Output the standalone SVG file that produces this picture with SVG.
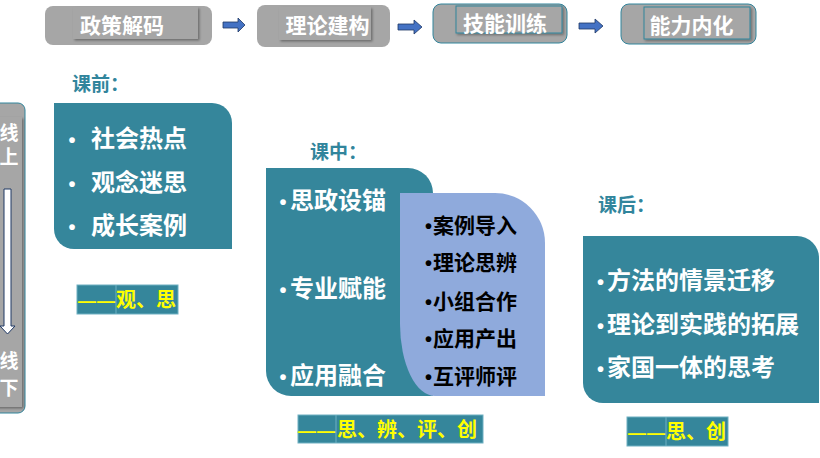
<svg xmlns="http://www.w3.org/2000/svg" width="820" height="458" viewBox="0 0 820 458">
<defs>
<filter id="sh" x="-10%" y="-20%" width="125%" height="150%">
<feDropShadow dx="1.5" dy="1.5" stdDeviation="1.2" flood-color="#000" flood-opacity="0.35"/>
</filter>
</defs>
<style>
text{font-family:"Noto Sans CJK SC","Microsoft YaHei",sans-serif;font-weight:bold}
.outer{fill:#a6a6a6}
.outerB{fill:#a6a6a6;stroke:#31859c;stroke-width:1}
.inner{fill:#a6a6a6;filter:url(#sh)}
.innerB{fill:#a6a6a6;stroke:#31859c;stroke-width:1;filter:url(#sh)}
.top{fill:#ffffff;font-size:21px;text-anchor:middle}
.head{fill:#31859c;font-size:19px}
.teal{fill:#35869b}
.blue{fill:#8faadc}
.wt{fill:#ffffff;font-size:24px}
.bk{fill:#000000;font-size:21px}
.bu{font-family:"Liberation Sans",Arial,sans-serif;font-size:20px}
.lab{fill:#35869b;stroke:#6fb0c2;stroke-width:1}
.div{stroke:#6fb0c2;stroke-width:1}
.yl{fill:#ffff00;font-size:20px}
.dash{font-family:"Liberation Sans",Arial,sans-serif;font-size:18px}
.arr{fill:#4472c4;stroke:#1f3864;stroke-width:0.8}
.side{fill:#ffffff;font-size:19px;text-anchor:middle}
</style>

<g id="step1">
<rect class="outer" x="45" y="6" width="167" height="39" rx="8"/>
<rect class="inner" x="73" y="7" width="125" height="32"/>
<text class="top" x="122" y="33">政策解码</text>
</g>
<g id="step2">
<rect class="outer" x="257" y="5" width="133" height="42" rx="8"/>
<rect class="inner" x="279" y="7" width="92" height="33"/>
<text class="top" x="327.5" y="33">理论建构</text>
</g>
<g id="step3">
<rect class="outerB" x="433" y="4" width="134" height="39" rx="8"/>
<rect class="innerB" x="456" y="6" width="106" height="27"/>
<text class="top" x="505" y="31">技能训练</text>
</g>
<g id="step4">
<rect class="outerB" x="621" y="4" width="135" height="40" rx="8"/>
<rect class="innerB" x="644" y="7" width="106" height="32"/>
<text class="top" x="691.5" y="33">能力内化</text>
</g>

<g id="online-offline">
<rect class="outerB" x="-20" y="103" width="45" height="310" rx="7"/>
<rect class="inner" x="-20" y="117" width="42" height="290"/>
<text class="side" x="9" y="140">线</text>
<text class="side" x="9" y="164">上</text>
<text class="side" x="9" y="368">线</text>
<text class="side" x="9" y="395">下</text>
</g>

<g id="connectors">
<path class="arr" d="M223 22 H238 V18 L245 25 L238 32 V28 H223 Z"/>
<path class="arr" d="M398 24 H414 V20 L422 27 L414 34 V30 H398 Z"/>
<path class="arr" d="M579 23 H595 V19 L603 26 L595 33 V29 H579 Z"/>
<path d="M4 189 H11 V326 H15 L7.5 334 L0 326 H4 Z" fill="#ffffff" stroke="#1f3864" stroke-width="1"/>
</g>

<g id="before-class">
<text class="head" x="72" y="91">课前：</text>
<path class="teal" d="M54 103 H212 A20 20 0 0 1 232 123 V249 H74 A20 20 0 0 1 54 229 Z"/>
<text class="wt" y="147"><tspan class="bu" x="68.5">•</tspan><tspan x="91">社会热点</tspan></text>
<text class="wt" y="191"><tspan class="bu" x="68.5">•</tspan><tspan x="91">观念迷思</tspan></text>
<text class="wt" y="234"><tspan class="bu" x="68.5">•</tspan><tspan x="91">成长案例</tspan></text>
</g>
<g id="before-label">
<rect class="lab" x="77" y="285" width="101" height="29"/>
<line class="div" x1="116" y1="285" x2="116" y2="314"/>
<text class="yl" y="307"><tspan class="dash" x="78 97">——</tspan><tspan x="116">观、思</tspan></text>
</g>

<g id="in-class">
<text class="head" x="310" y="159">课中：</text>
<path class="teal" d="M266 168 H408 A25 25 0 0 1 433 193 V396 H291 A25 25 0 0 1 266 371 Z"/>
<text class="wt" y="209"><tspan class="bu" x="279.5">•</tspan><tspan x="290">思政设锚</tspan></text>
<text class="wt" y="297"><tspan class="bu" x="279.5">•</tspan><tspan x="290">专业赋能</tspan></text>
<text class="wt" y="384"><tspan class="bu" x="279.5">•</tspan><tspan x="290">应用融合</tspan></text>
</g>
<g id="in-class-steps">
<path class="blue" d="M400 193 H495 A50 50 0 0 1 545 243 V396 H435 A35 72 0 0 1 400 324 Z"/>
<text class="bk" y="233"><tspan class="bu" x="425">•</tspan><tspan x="433">案例导入</tspan></text>
<text class="bk" y="270"><tspan class="bu" x="425">•</tspan><tspan x="433">理论思辨</tspan></text>
<text class="bk" y="309"><tspan class="bu" x="425">•</tspan><tspan x="433">小组合作</tspan></text>
<text class="bk" y="346"><tspan class="bu" x="425">•</tspan><tspan x="433">应用产出</tspan></text>
<text class="bk" y="384"><tspan class="bu" x="425">•</tspan><tspan x="433">互评师评</tspan></text>
</g>
<g id="in-class-label">
<rect class="lab" x="298" y="415" width="185" height="28"/>
<line class="div" x1="336" y1="415" x2="336" y2="443"/>
<text class="yl" y="436.5"><tspan class="dash" x="298 317">——</tspan><tspan x="337">思、辨、评、创</tspan></text>
</g>

<g id="after-class">
<text class="head" x="598" y="212">课后：</text>
<path class="teal" d="M583 236 H797 A22 22 0 0 1 819 258 V403 H603 A20 20 0 0 1 583 383 Z"/>
<text class="wt" y="289"><tspan class="bu" x="597">•</tspan><tspan x="607">方法的情景迁移</tspan></text>
<text class="wt" y="333"><tspan class="bu" x="597">•</tspan><tspan x="607">理论到实践的拓展</tspan></text>
<text class="wt" y="376"><tspan class="bu" x="597">•</tspan><tspan x="607">家国一体的思考</tspan></text>
</g>
<g id="after-label">
<rect class="lab" x="627" y="417" width="101" height="29"/>
<line class="div" x1="666" y1="417" x2="666" y2="446"/>
<text class="yl" y="439"><tspan class="dash" x="628 647">——</tspan><tspan x="666">思、创</tspan></text>
</g>
</svg>
